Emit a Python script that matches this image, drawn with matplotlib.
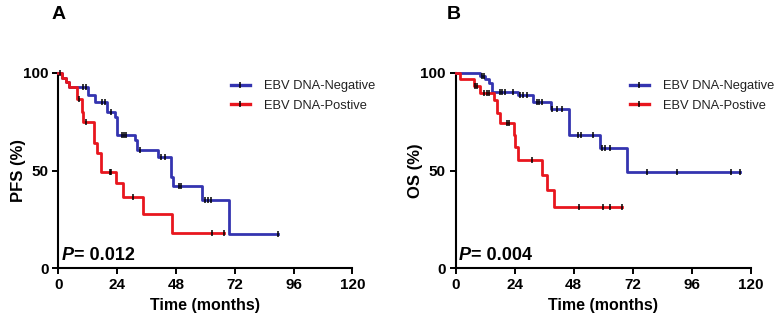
import numpy as np
import matplotlib.pyplot as plt
from matplotlib.lines import Line2D

plt.rcParams["font.family"] = ["Liberation Sans", "DejaVu Sans"]

BLUE = "#3434b0"
RED = "#e8161e"

# ---- Panel A: PFS ----
pfs_neg_t = [0, 1.5, 3.0, 4.3, 12.2, 14.9, 19.7, 23.1, 24.0, 31.2, 32.1, 40.8, 45.9, 46.7, 58.6, 69.5]
pfs_neg_s = [100, 97.3, 95.0, 92.8, 88.6, 85.2, 80.1, 77.5, 68.1, 65.6, 60.5, 56.8, 46.9, 42.1, 35.0, 17.6]
pfs_neg_end = 89.5
pfs_neg_cens = [10.2, 11.3, 18.0, 19.0, 21.7, 25.8, 26.7, 27.8, 33.2, 42.1, 43.4, 49.2, 50.2,
                59.7, 61.0, 62.5, 89.5]

pfs_pos_t = [0, 1.5, 3.0, 4.3, 7.6, 9.6, 10.0, 14.6, 15.6, 17.6, 23.5, 26.5, 34.6, 46.6]
pfs_pos_s = [100, 97.3, 95.0, 92.5, 86.5, 80.0, 75.0, 64.0, 58.9, 49.0, 43.5, 36.7, 27.8, 18.2]
pfs_pos_end = 67.5
pfs_pos_cens = [0.8, 8.4, 11.3, 21.0, 21.7, 30.5, 62.6, 67.5]

# ---- Panel B: OS ----
os_neg_t = [0, 9.8, 12.0, 13.5, 14.8, 25.5, 31.5, 38.8, 46.0, 58.7, 69.7]
os_neg_s = [100, 98.5, 96.6, 94.9, 90.3, 88.5, 85.0, 81.5, 68.0, 61.4, 49.0]
os_neg_end = 115.7
os_neg_cens = [10.6, 11.7, 18.1, 19.0, 20.1, 23.5, 26.2, 27.5, 28.9, 33.0, 33.9, 35.2,
               39.3, 41.1, 43.1, 49.8, 50.9, 55.9, 59.5, 60.7, 62.7, 77.6, 89.8, 111.7, 115.7]

os_pos_t = [0, 1.8, 7.5, 9.9, 15.6, 16.9, 18.0, 23.6, 24.2, 25.2, 35.2, 37.0, 40.0]
os_pos_s = [100, 96.8, 93.2, 89.8, 86.0, 79.2, 74.1, 68.1, 62.2, 55.6, 47.5, 39.8, 31.5]
os_pos_end = 67.7
os_pos_cens = [7.9, 8.6, 11.7, 12.7, 13.6, 20.8, 21.7, 31.2, 50.0, 59.7, 62.7, 67.7]

x_ticks = [0, 24, 48, 72, 96, 120]
y_ticks = [0, 50, 100]


def draw_km(ax, t, s, end, cens, color):
    tt = list(t) + [end]
    ss = list(s) + [s[-1]]
    ax.plot(tt, ss, drawstyle="steps-post", color=color, lw=2.0, clip_on=False, zorder=3)
    t_arr = np.array(t)
    idx = np.searchsorted(t_arr, cens, side="right") - 1
    cy = np.array(s)[idx]
    ax.plot(cens, cy, linestyle="none", marker="|", ms=5, mew=1.1, color="black",
            clip_on=False, zorder=4)


def style_axis(ax, ylabel, pval):
    ax.set_xlim(0, 120)
    ax.set_ylim(0, 100)
    ax.set_xticks(x_ticks)
    ax.set_yticks(y_ticks)
    for sp in ["top", "right"]:
        ax.spines[sp].set_visible(False)
    for sp in ["left", "bottom"]:
        ax.spines[sp].set_linewidth(1.5)
    ax.tick_params(width=1.4, length=4, labelsize=11, pad=3)
    for lab in ax.get_xticklabels() + ax.get_yticklabels():
        lab.set_fontweight("bold")
    ax.set_xlabel("Time (months)", fontsize=11.5, fontweight="bold", labelpad=4)
    ax.set_ylabel(ylabel, fontsize=12, fontweight="bold", labelpad=-2)
    t1 = ax.text(0.012, 0.02, "P", transform=ax.transAxes, fontsize=13,
                 fontweight="bold", style="italic", va="bottom", ha="left")
    ax.annotate("= " + pval, xy=(1, 0), xycoords=t1, fontsize=13, fontweight="bold",
                va="bottom", ha="left")


fig = plt.figure(figsize=(7.81, 3.19), dpi=100)
axA = fig.add_axes([58.3 / 781, 50.7 / 319, 294 / 781, 195.6 / 319])
axB = fig.add_axes([455.5 / 781, 50.7 / 319, 295.5 / 781, 195.6 / 319])

draw_km(axA, pfs_neg_t, pfs_neg_s, pfs_neg_end, pfs_neg_cens, BLUE)
draw_km(axA, pfs_pos_t, pfs_pos_s, pfs_pos_end, pfs_pos_cens, RED)
draw_km(axB, os_neg_t, os_neg_s, os_neg_end, os_neg_cens, BLUE)
draw_km(axB, os_pos_t, os_pos_s, os_pos_end, os_pos_cens, RED)

style_axis(axA, "PFS (%)", "0.012")
style_axis(axB, "OS (%)", "0.004")

handles = [
    Line2D([], [], color=BLUE, lw=2.4, marker="|", ms=5, mew=1.1, mec="black"),
    Line2D([], [], color=RED, lw=2.4, marker="|", ms=5, mew=1.1, mec="black"),
]
labels = ["EBV DNA-Negative", "EBV DNA-Postive"]
for x0 in [231, 630]:
    leg = fig.legend(handles, labels, loc="upper left",
                     bbox_to_anchor=(x0 / 781, 1 - 80 / 319), bbox_transform=fig.transFigure,
                     frameon=False, fontsize=9.3, handlelength=1.45, handletextpad=1.1,
                     labelspacing=0.6, borderpad=0, borderaxespad=0, numpoints=1)
    for txt in leg.get_texts():
        txt.set_color("#222222")

fig.text(52 / 781, 1 - 6 / 319, "A", fontsize=14, fontweight="bold", va="top", ha="left")
fig.text(447 / 781, 1 - 6 / 319, "B", fontsize=14, fontweight="bold", va="top", ha="left")

fig.savefig("out.png", dpi=100)
